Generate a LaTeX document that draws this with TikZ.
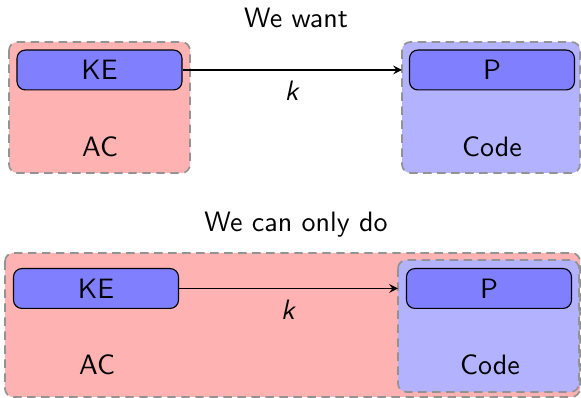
\documentclass[tikz,border=0pt]{standalone}
\usepackage{amsmath}
\usepackage{xcolor}

\begin{document}
\begin{tikzpicture}[x=0.01255cm, y=-0.01255cm, font=\sffamily, >=stealth,
        frame/.style={draw=gray!85, semithick, densely dashed, rounded corners=3pt},
        party/.style={draw=black, fill=blue!50, rounded corners=3pt,
            minimum width=2.07cm, minimum height=0.5cm, inner sep=0pt}]
        \useasboundingbox (0, 0) rectangle (581, 398);

        % what we would like
        \node (want) at (296, 18) {We want};
        \filldraw[frame, fill=red!30] (9, 42) rectangle (190, 173);
        \filldraw[frame, fill=blue!30] (402, 42) rectangle (580, 173);
        \coordinate (code1in) at (402, 70);
        \node[party] (ke1) at (99.5, 70) {KE};
        \node[party] (p1) at (492, 70) {P};
        \node (ac1) at (100, 147) {AC};
        \node (code1) at (492, 147) {Code};
        \draw[->] (ke1) -- (code1in) node[midway, below=0.5pt] {\textit{k}};

        % what is possible
        \node (can) at (296, 225) {We can only do};
        \filldraw[frame, fill=red!30] (5, 253) rectangle (580, 397);
        \filldraw[frame, fill=blue!30] (398, 260) rectangle (579, 392);
        \coordinate (code2in) at (398, 288.5);
        \node[party] (ke2) at (96, 288.5) {KE};
        \node[party] (p2) at (489, 288.5) {P};
        \node (ac2) at (97, 365) {AC};
        \node (code2) at (490, 365) {Code};
        \draw[->] (ke2) -- (code2in) node[midway, below=0.5pt] {\textit{k}};
    \end{tikzpicture}
\end{document}
